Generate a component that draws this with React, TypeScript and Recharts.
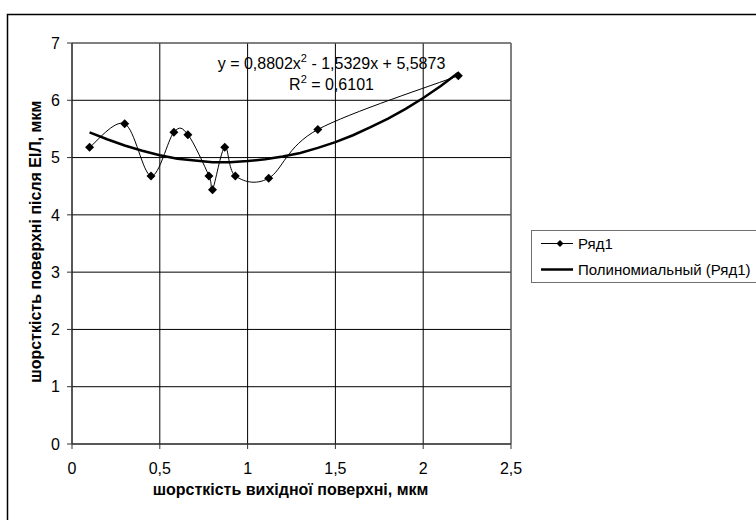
import React from 'react';
import { LineChart, Line, XAxis, YAxis, CartesianGrid, ReferenceLine, Legend } from 'recharts';

const FONT = '"Liberation Sans", Arial, Helvetica, sans-serif';

// measured series (Ряд1)
const seriesX = [0.1, 0.3, 0.45, 0.58, 0.66, 0.78, 0.8, 0.87, 0.93, 1.12, 1.4, 2.2];
const seriesY = [5.18, 5.59, 4.68, 5.44, 5.4, 4.68, 4.44, 5.18, 4.68, 4.64, 5.49, 6.43];

// polynomial trend line
const trendX = [0.1, 0.2, 0.3, 0.4, 0.5, 0.6, 0.7, 0.8, 0.9, 1.0, 1.1, 1.2, 1.3, 1.4, 1.5, 1.6, 1.7, 1.8, 1.9, 2.0, 2.1, 2.2];
const trendY = [5.44, 5.32, 5.21, 5.12, 5.04, 4.98, 4.95, 4.92, 4.92, 4.94, 4.97, 5.02, 5.08, 5.17, 5.27, 5.39, 5.53, 5.68, 5.85, 6.04, 6.25, 6.48];

const xTicks = [0, 0.5, 1, 1.5, 2, 2.5];
const yTicks = [0, 1, 2, 3, 4, 5, 6, 7];

const seriesName = 'Ряд1';
const trendName = 'Полиномиальный (Ряд1)';
const xLabel = 'шорсткість вихідної поверхні, мкм';
const yLabel = 'шорсткість поверхні після ЕІЛ, мкм';
const coefA = '0,8802';
const coefB = '1,5329';
const coefC = '5,5873';
const rSquared = '0,6101';

const seriesData = seriesX.map((x, i) => ({ x, y: seriesY[i] }));
const trendData = trendX.map((x, i) => ({ x, y: trendY[i] }));

// Excel-like smoothed line (Catmull-Rom style Bezier)
function excelSmooth(context: any) {
  let pts: number[][] = [];
  return {
    areaStart() {},
    areaEnd() {},
    lineStart() {
      pts = [];
    },
    point(x: number, y: number) {
      pts.push([+x, +y]);
    },
    lineEnd() {
      const n = pts.length;
      if (!n) return;
      context.moveTo(pts[0][0], pts[0][1]);
      for (let i = 0; i < n - 1; i++) {
        const p0 = pts[Math.max(0, i - 1)];
        const p1 = pts[i];
        const p2 = pts[i + 1];
        const p3 = pts[Math.min(n - 1, i + 2)];
        context.bezierCurveTo(
          p1[0] + (p2[0] - p0[0]) / 6,
          p1[1] + (p2[1] - p0[1]) / 6,
          p2[0] - (p3[0] - p1[0]) / 6,
          p2[1] - (p3[1] - p1[1]) / 6,
          p2[0],
          p2[1]
        );
      }
    },
  };
}

const Diamond = (props: any) => {
  const { cx, cy, index } = props;
  if (cx == null || cy == null) return <g key={`dm-${index}`} />;
  const r = 4.5;
  return (
    <path
      key={`dm-${index}`}
      d={`M${cx},${cy - r}L${cx + r},${cy}L${cx},${cy + r}L${cx - r},${cy}Z`}
      fill="#000"
    />
  );
};

const renderLegend = () => (
  <svg width={225} height={54} style={{ display: 'block' }}>
    <rect x={0.5} y={0.5} width={300} height={52} fill="#fff" stroke="#707070" />
    <line x1={10} y1={13.5} x2={42} y2={13.5} stroke="#000" strokeWidth={1} />
    <path d="M29,10L32.5,13.5L29,17L25.5,13.5Z" fill="#000" />
    <text x={47} y={18.5} fontFamily={FONT} fontSize={15} fill="#000">
      {seriesName}
    </text>
    <line x1={10} y1={39.5} x2={42} y2={39.5} stroke="#000" strokeWidth={2.5} />
    <text x={47} y={44.5} fontFamily={FONT} fontSize={15} fill="#000">
      {trendName}
    </text>
  </svg>
);

const fmt = (v: number) => String(v).replace('.', ',');

export default function App() {
  return (
    <div
      style={{
        position: 'absolute',
        left: 0,
        top: 0,
        width: 756,
        height: 520,
        overflow: 'hidden',
        background: '#fff',
      }}
    >
      <LineChart
        width={756}
        height={520}
        margin={{ top: 43, right: 245, bottom: 46, left: 0 }}
        style={{ fontFamily: FONT }}
      >
        <rect x={7.5} y={14.5} width={800} height={600} fill="none" stroke="#000" strokeWidth={1.5} />
        <CartesianGrid stroke="#000" strokeWidth={1} />
        <XAxis
          dataKey="x"
          type="number"
          domain={[0, 2.5]}
          ticks={xTicks}
          interval={0}
          tickFormatter={fmt}
          tickSize={5}
          tickMargin={14}
          height={30}
          tick={{ fill: '#000', fontSize: 16, fontFamily: FONT }}
          axisLine={{ stroke: '#333' }}
          tickLine={{ stroke: '#333' }}
        />
        <YAxis
          type="number"
          domain={[0, 7]}
          ticks={yTicks}
          interval={0}
          width={72}
          tickSize={5}
          tickMargin={7}
          tick={{ fill: '#000', fontSize: 16, fontFamily: FONT }}
          axisLine={{ stroke: '#333' }}
          tickLine={{ stroke: '#333' }}
        />
        <ReferenceLine y={7} stroke="#808080" strokeWidth={1} />
        <ReferenceLine x={2.5} stroke="#808080" strokeWidth={1} />
        <Line
          data={trendData}
          dataKey="y"
          name={trendName}
          type="linear"
          stroke="#000"
          strokeWidth={2.5}
          dot={false}
          activeDot={false}
          isAnimationActive={false}
        />
        <Line
          data={seriesData}
          dataKey="y"
          name={seriesName}
          type={excelSmooth as any}
          stroke="#000"
          strokeWidth={1}
          dot={Diamond}
          activeDot={false}
          isAnimationActive={false}
        />
        <Legend
          layout="vertical"
          align="center"
          verticalAlign="middle"
          width={225}
          content={renderLegend}
          wrapperStyle={{ left: 531, top: 230, width: 225, height: 54 }}
        />
        <text x={331.5} y={68.5} textAnchor="middle" fontFamily={FONT} fontSize={16} fill="#000">
          {`y = ${coefA}x`}
          <tspan fontSize={11} dy={-7}>2</tspan>
          <tspan dy={7}>{` - ${coefB}x + ${coefC}`}</tspan>
        </text>
        <text x={331.5} y={90} textAnchor="middle" fontFamily={FONT} fontSize={16} fill="#000">
          R<tspan fontSize={11} dy={-7}>2</tspan>
          <tspan dy={7}>{` = ${rSquared}`}</tspan>
        </text>
        <text x={290.5} y={495} textAnchor="middle" fontFamily={FONT} fontSize={16} fontWeight="bold" fill="#000">
          {xLabel}
        </text>
        <text
          x={41.5}
          y={241.7}
          transform="rotate(-90, 41.5, 241.7)"
          textAnchor="middle"
          fontFamily={FONT}
          fontSize={16}
          fontWeight="bold"
          fill="#000"
        >
          {yLabel}
        </text>
      </LineChart>
    </div>
  );
}
